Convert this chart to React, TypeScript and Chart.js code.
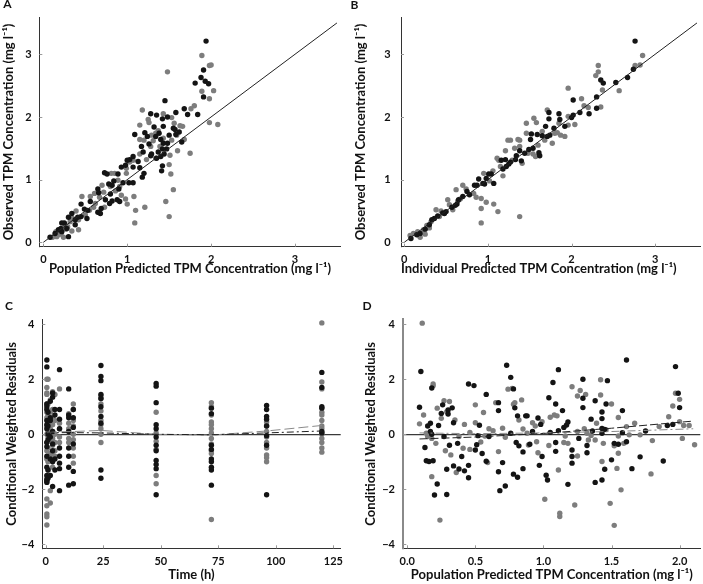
import React, { useEffect, useRef } from "react";
import { Chart, registerables } from "chart.js";
Chart.register(...registerables);

type Pt = [number, number];

const FONT = "Lato, 'DejaVu Sans', sans-serif";
const BLACK = "#141414";
const GRAY = "#7d7d7d";

// ---------- Panel A: observed vs population predicted ----------
const aBlack: Pt[] = [
  [1.94,3.21],[1.91,2.75],[1.88,2.63],[1.81,2.54],[1.93,2.57],[1.97,2.53],[1.91,2.32],[1.45,2.26],[1.68,2.13],[1.84,2.04],
  [1.72,2.04],[1.28,2.05],[1.58,2.07],[1.42,1.97],[1.35,2.03],[1.48,2.0],[1.32,1.84],[1.55,1.82],[1.57,1.8],[1.43,1.85],
  [1.38,1.74],[1.21,1.75],[1.09,1.72],[1.34,1.69],[1.24,1.69],[1.5,1.71],[1.62,1.76],[1.48,1.58],[1.43,1.58],[1.4,1.64],
  [1.26,1.57],[1.17,1.53],[1.42,1.49],[1.47,1.49],[1.37,1.44],[1.44,1.41],[1.29,1.41],[1.19,1.44],[1.07,1.37],[1.03,1.32],
  [1.0,1.31],[1.13,1.29],[1.28,1.38],[1.35,1.34],[1.4,1.37],[0.93,1.2],[0.98,1.23],[1.07,1.2],[1.15,1.19],[1.42,1.22],
  [1.41,1.14],[1.18,1.04],[1.2,1.1],[1.07,0.95],[1.02,0.95],[0.95,0.95],[0.89,1.09],[0.73,1.11],[0.76,1.09],[0.84,0.98],
  [0.82,0.91],[0.9,0.85],[0.78,0.93],[0.65,0.85],[0.66,0.79],[0.8,0.77],[0.74,0.68],[0.88,0.68],[0.91,0.65],[0.82,0.66],
  [0.79,0.62],[0.69,0.54],[0.65,0.48],[0.68,0.46],[0.56,0.65],[0.45,0.61],[0.53,0.51],[0.49,0.53],[0.45,0.41],[0.38,0.36],
  [0.34,0.46],[0.3,0.4],[0.38,0.28],[0.25,0.31],[0.22,0.31],[0.18,0.2],[0.28,0.22],[0.14,0.14],[0.08,0.08],[0.21,0.22],
  [0.22,0.17],[0.3,0.09],[0.52,0.38],[0.41,0.4],[1.58,1.72],[1.65,1.6]
];
const aGray: Pt[] = [
  [1.89,2.98],[1.48,2.72],[2.0,2.83],[1.98,2.82],[2.03,2.42],[1.89,2.41],[1.98,2.29],[1.98,1.91],[2.08,1.88],[1.8,2.18],
  [1.76,2.13],[1.18,2.11],[1.43,2.05],[1.53,1.99],[1.63,1.86],[1.66,1.85],[1.56,1.9],[1.59,1.71],[1.68,1.64],[1.75,1.42],
  [1.6,1.46],[1.53,1.63],[1.25,1.96],[1.15,1.87],[1.15,1.64],[1.2,1.63],[1.29,1.71],[1.34,1.74],[1.37,1.78],[1.31,1.62],
  [1.28,1.53],[1.51,1.39],[1.5,1.24],[1.52,1.09],[1.55,0.84],[1.46,0.65],[1.5,0.41],[1.21,0.56],[1.1,0.51],[1.09,0.31],
  [1.08,0.73],[1.0,0.61],[0.93,0.75],[0.98,0.69],[0.86,0.82],[0.8,0.89],[0.91,0.89],[0.85,1.1],[0.81,1.1],[0.7,0.91],
  [0.61,0.78],[0.67,0.72],[0.73,0.56],[0.6,0.56],[0.55,0.51],[0.46,0.73],[0.56,0.73],[0.5,0.44],[0.39,0.5],[0.35,0.38],
  [0.32,0.33],[0.42,0.36],[0.26,0.28],[0.27,0.21],[0.21,0.13],[0.16,0.09],[0.11,0.08],[0.24,0.08],[0.15,0.17],[0.34,0.18],
  [0.42,0.2],[0.99,1.1],[1.07,1.31],[1.15,1.41],[1.03,1.28],[1.23,1.32],[1.34,1.34],[1.39,1.53],[1.43,1.66],[0.99,1.18],
  [0.89,0.99],[1.26,1.91],[0.18,0.12],[0.29,0.25],[0.62,0.62],[0.72,0.8]
];

// ---------- Panel B: observed vs individual predicted ----------
const bBlack: Pt[] = [
  [2.76,3.21],[2.74,2.76],[2.67,2.63],[2.53,2.55],[2.38,2.54],[2.35,2.59],[2.3,2.32],[2.3,2.14],[2.21,2.05],[2.1,2.07],
  [2.02,2.03],[2.02,2.27],[2.0,1.99],[1.85,2.05],[1.73,2.07],[1.86,1.96],[1.92,1.85],[1.73,1.97],[1.79,1.82],[1.69,1.85],
  [1.59,1.72],[1.52,1.73],[1.74,1.71],[1.65,1.7],[1.51,1.64],[1.71,1.69],[1.54,1.5],[1.61,1.43],[1.62,1.38],[1.49,1.48],
  [1.38,1.46],[1.34,1.38],[1.33,1.32],[1.4,1.3],[1.21,1.32],[1.22,1.21],[1.16,1.31],[1.27,1.28],[1.18,1.17],[1.04,1.09],
  [1.07,0.94],[1.01,1.09],[0.98,1.02],[0.89,1.01],[0.94,0.94],[0.87,0.91],[0.96,0.93],[0.84,0.91],[0.78,0.76],[0.75,0.81],
  [0.7,0.73],[0.65,0.68],[0.57,0.56],[0.63,0.61],[0.5,0.49],[0.46,0.47],[0.4,0.42],[0.36,0.38],[0.33,0.36],[0.3,0.28],
  [0.25,0.21],[0.19,0.14],[0.15,0.12],[0.08,0.06],[0.48,0.46],[0.61,0.59],[1.25,1.25],[1.44,1.42]
];
const bGray: Pt[] = [
  [2.85,2.98],[2.82,2.83],[2.76,2.82],[2.32,2.82],[2.29,2.66],[2.32,2.72],[2.57,2.42],[2.37,2.43],[2.35,2.16],[2.12,2.29],
  [2.15,2.18],[1.96,2.46],[1.96,2.01],[2.04,1.88],[1.96,1.87],[1.71,2.11],[1.55,1.98],[1.58,1.91],[1.8,1.74],[1.83,1.75],
  [1.87,1.71],[1.92,1.69],[1.77,1.58],[1.68,1.63],[1.65,1.77],[1.46,1.9],[1.36,1.64],[1.38,1.63],[1.24,1.63],[1.46,1.74],
  [1.38,1.53],[1.48,1.42],[1.54,1.41],[1.57,1.37],[1.41,1.26],[1.32,1.5],[1.29,1.31],[1.13,1.31],[1.15,1.21],[1.18,1.06],
  [1.06,1.14],[0.95,1.1],[1.02,0.98],[0.92,0.7],[0.98,0.64],[1.07,0.61],[1.12,0.49],[0.92,0.54],[0.92,0.31],[1.38,0.41],
  [0.83,0.78],[0.86,0.72],[0.74,0.85],[0.7,0.91],[0.62,0.84],[0.67,0.69],[0.64,0.66],[0.52,0.68],[0.54,0.6],[0.58,0.52],
  [0.44,0.5],[0.38,0.52],[0.42,0.41],[0.32,0.33],[0.27,0.27],[0.3,0.23],[0.23,0.2],[0.16,0.17],[0.11,0.14],[0.07,0.11],
  [0.19,0.08],[0.25,0.13],[1.11,1.34],[1.21,1.46],[1.27,1.63],[1.6,1.55],[1.85,1.9],[2.2,2.15]
];

const identityLine = [0, 3.5];

// ---------- Panel C: CWRES vs time ----------
const cTimes = [0.5, 1, 2, 3, 4, 6, 10, 12, 24, 48, 72, 96, 120];
const cBlackByTime: number[][] = [
  [2.7,2.45,1.1,1.0,0.9,0.5,0.35,0.2,-0.3,-0.45,-0.8,-1.2,-1.5,-1.7,-1.75,-1.65],
  [0.8,0.3,0,-0.2,-1.3,-1.6],
  [0.6,-0.1,-0.9,-1.5,1.2,0.5],
  [1.35,1.5,-0.35,-0.6,-1.0,-1.9,0.1],
  [0.7,0.9,-0.9,-1.3],
  [2.35,0.9,0.55,0.2,-0.5,-0.8,-1.05,-1.25,-2.05],
  [1.65,0.7,0.6,0.1,-0.5,-0.8,-1.2,-1.85],
  [0.9,0.6,0.25,-0.35,-1.35,-1.8],
  [2.5,2.1,1.95,1.45,1.3,1.0,0.65,0.4,-1.3,-1.6],
  [1.85,1.75,1.15,0.35,0.2,-0.1,-0.4,-0.6,-0.95,-1.1,-1.25,-2.2],
  [0.95,0.75,-0.4,-0.55,-0.9,-1.0,-1.2,-1.3,-1.85],
  [1.05,0.9,0.65,0.55,0.3,-0.05,-0.4,-2.2],
  [2.25,1.7,1.0,0.95,0.1,0.05]
];
const cGrayByTime: number[][] = [
  [2.0,1.7,1.5,1.45,1.1,0.8,0.6,0.3,0.0,-0.3,-0.6,-0.9,-1.6,-2.35,-2.6,-2.9,-3.0,-3.3],
  [2.0,1.1,0.7,0.4,0.1,-0.1,-0.5,-1.0,-1.3],
  [1.25,0.8,0.5,0.2,-0.2,-0.7,-2.05,-2.5],
  [1.55,0.9,0.6,0.35,0.1,-0.15,-0.4,-0.75,-1.2],
  [1.45,0.5,0.0,-0.3,-0.6,-0.8],
  [1.65,0.4,0.2,-0.1,-0.3],
  [0.75,0.4,0.2,-0.15,-0.3],
  [1.1,0.9,0.5,0.3,0.0,-0.2,-0.5,-0.8,-1.05],
  [1.4,1.3,1.1,0.85,0.5,0.35,0.2,0.0,-0.3],
  [0.8,0.05,-0.25,-0.55,-1.5,-1.8],
  [1.15,1.0,0.7,0.45,0.35,0.2,0.05,-0.15,-0.35,-0.6,-0.7,-3.1],
  [0.45,0.3,0.1,-0.1,-0.3,-0.5,-0.75,-0.85,-1.0],
  [4.05,1.9,1.65,0.8,0.7,0.5,0.3,0.2,0.0,-0.15,-0.3,-0.5,-0.65]
];
const cBlackTrend: Pt[] = [[0.5,0.05],[6,0.06],[12,0.06],[24,0.05],[48,0.0],[72,-0.02],[96,0.05],[120,0.12]];
const cGrayTrend: Pt[] = [[0.5,0.06],[6,0.09],[12,0.1],[24,0.14],[48,0.0],[72,-0.03],[96,0.12],[120,0.32]];

// ---------- Panel D: CWRES vs population predicted ----------
const dBlack: Pt[] = [
  [0.09,0.98],[0.1,2.28],[0.18,1.68],[0.13,-0.48],[0.14,-0.96],[0.16,-0.99],[0.17,0.1],[0.18,0.0],[0.19,-0.96],[0.15,0.3],
  [0.17,0.4],[0.2,-2.21],[0.22,-1.81],[0.23,0.32],[0.25,0.76],[0.26,1.07],[0.27,-0.08],[0.29,-1.27],[0.29,-2.19],[0.3,0.88],
  [0.3,0.74],[0.31,-0.4],[0.34,-1.15],[0.34,0.42],[0.33,0.96],[0.37,-0.33],[0.38,-1.26],[0.4,-0.81],[0.42,-1.33],[0.45,1.83],
  [0.45,-1.13],[0.45,-1.58],[0.49,1.77],[0.51,-0.38],[0.52,-0.05],[0.53,0.33],[0.5,-0.57],[0.58,1.45],[0.58,-0.98],[0.55,-0.7],
  [0.6,-0.08],[0.67,0.86],[0.67,1.15],[0.67,-1.36],[0.68,-2.05],[0.7,-1.03],[0.72,-1.88],[0.73,2.51],[0.76,2.07],[0.76,0.04],
  [0.78,1.65],[0.79,0.96],[0.8,-0.3],[0.81,-1.56],[0.78,-1.45],[0.82,-0.42],[0.81,0.67],[0.87,0.67],[0.88,0.67],[0.85,-0.64],
  [0.85,-1.25],[0.9,-0.36],[0.92,0.1],[0.96,0.59],[0.98,0.36],[0.97,-1.13],[0.99,-0.81],[1.02,-1.49],[1.03,-1.66],[1.04,1.33],
  [1.05,0.07],[1.07,1.88],[1.09,-0.3],[1.09,1.1],[1.11,0.13],[1.11,2.35],[1.09,-0.62],[1.14,0.86],[1.15,0.25],[1.17,0.34],
  [1.18,0.45],[1.18,-1.82],[1.21,-0.81],[1.21,-1.05],[1.21,-0.57],[1.26,-0.15],[1.29,2.0],[1.29,0.97],[1.29,1.31],[1.32,-0.41],
  [1.32,-0.67],[1.35,0.55],[1.36,0.12],[1.38,1.22],[1.38,-1.75],[1.43,0.04],[1.43,0.21],[1.43,0.57],[1.43,0.81],[1.45,-1.27],
  [1.46,1.1],[1.47,1.95],[1.45,0.18],[1.43,-1.66],[1.5,-0.93],[1.52,-0.33],[1.55,-0.36],[1.58,0.86],[1.58,0.06],[1.61,2.7],
  [1.61,-0.27],[1.65,-1.25],[1.71,-0.82],[1.75,0.12],[1.88,-0.97],[1.91,0.32],[1.95,0.36],[1.97,2.46],[1.99,1.49],[2.0,0.97]
];
const dGray: Pt[] = [
  [0.11,4.04],[0.09,0.38],[0.19,1.83],[0.19,1.76],[0.14,0.04],[0.15,-0.08],[0.18,-0.15],[0.18,-1.54],[0.21,-0.33],[0.22,0.95],
  [0.24,-3.12],[0.25,0.58],[0.27,1.22],[0.29,0.82],[0.31,1.19],[0.32,-0.75],[0.35,0.52],[0.36,-1.39],[0.38,-0.08],[0.42,0.36],
  [0.41,-0.51],[0.46,0.07],[0.46,-0.55],[0.5,1.07],[0.5,0.42],[0.54,-0.28],[0.56,0.79],[0.57,-0.06],[0.59,-1.03],[0.63,0.13],
  [0.65,1.15],[0.67,-0.63],[0.7,0.22],[0.72,-0.11],[0.74,1.64],[0.77,1.67],[0.78,1.09],[0.79,1.15],[0.82,0.52],[0.84,1.25],
  [0.85,0.19],[0.88,0.04],[0.89,-0.39],[0.94,0.3],[0.95,-0.27],[0.96,-0.67],[0.99,0.46],[1.01,-2.36],[1.04,-0.41],[1.05,0.62],
  [1.08,0.7],[1.1,0.67],[1.11,-1.3],[1.12,-2.99],[1.12,-2.87],[1.15,-0.3],[1.16,-0.06],[1.18,-0.33],[1.21,1.73],[1.23,-2.57],
  [1.25,1.39],[1.25,0.1],[1.25,-0.79],[1.27,1.59],[1.31,1.45],[1.32,0.04],[1.33,-0.21],[1.35,-0.04],[1.38,-0.21],[1.39,0.4],
  [1.42,1.98],[1.42,1.43],[1.43,-0.99],[1.44,-0.33],[1.46,0.17],[1.49,-2.51],[1.5,1.1],[1.52,-0.42],[1.52,-3.31],[1.54,-1.24],
  [1.55,0.61],[1.55,-0.06],[1.55,-0.69],[1.57,-2.02],[1.59,-0.33],[1.61,0.28],[1.63,-0.02],[1.67,0.4],[1.71,-0.02],[1.79,-1.44],
  [1.8,-0.23],[1.85,0.28],[1.92,0.64],[1.95,1.03],[1.97,1.49],[2.0,1.27],[2.02,-0.15],[2.03,0.32],[2.07,0.32],[2.11,-0.38],
  [2.0,0.46],[0.12,0.7],[0.28,-0.6],[0.6,0.2],[0.92,0.42],[1.3,0.2]
];
const dBlackTrend: Pt[] = [[0.09,-0.17],[0.5,-0.1],[1.0,0.03],[1.5,0.22],[2.1,0.48]];
const dGrayTrend: Pt[] = [[0.09,0.05],[0.5,0.02],[1.0,0.05],[1.5,0.1],[2.1,0.2]];

// ---------- tick labels ----------
const concTicks = [0, 1, 2, 3];
const cwresTicks = [-4, -2, 0, 2, 4];
const timeTicks = [0, 25, 50, 75, 100, 125];
const predTicks = [0, 0.5, 1, 1.5, 2];

const toXY = (pts: Pt[]) => pts.map(([x, y]) => ({ x, y }));
const fromColumns = (times: number[], cols: number[][]) =>
  cols.flatMap((col, i) => col.map((y) => ({ x: times[i], y })));

const innerTicks = {
  id: "innerTicks",
  afterDatasetsDraw(chart: any) {
    const { ctx, chartArea, scales } = chart;
    ctx.save();
    ctx.strokeStyle = "#9a9a9a";
    ctx.lineWidth = 1;
    scales.x.ticks.forEach((t: any) => {
      const px = Math.round(scales.x.getPixelForValue(t.value)) + 0.5;
      ctx.beginPath();
      ctx.moveTo(px, chartArea.bottom);
      ctx.lineTo(px, chartArea.bottom - 3);
      ctx.stroke();
    });
    scales.y.ticks.forEach((t: any) => {
      const py = Math.round(scales.y.getPixelForValue(t.value)) + 0.5;
      ctx.beginPath();
      ctx.moveTo(chartArea.left, py);
      ctx.lineTo(chartArea.left + 3, py);
      ctx.stroke();
    });
    ctx.restore();
  },
};

const panelLetter = {
  id: "panelLetter",
  afterDraw(chart: any, _args: any, opts: any) {
    const { ctx } = chart;
    ctx.save();
    ctx.font = `bold 12px ${FONT}`;
    ctx.fillStyle = "#111";
    ctx.textAlign = "center";
    ctx.textBaseline = "middle";
    ctx.fillText(opts.text, opts.x, opts.y);
    ctx.restore();
  },
};

const fmtMinus = (v: number, digits = 0) => {
  const s = Math.abs(v).toFixed(digits);
  return v < 0 ? "\u2212" + s : s;
};

interface Spec {
  left: number; top: number; width: number; height: number;
  padTop: number; padRight: number;
  yWidth: number; xHeight: number;
  xMin: number; xMax: number; yMin: number; yMax: number;
  xTicks: number[]; yTicks: number[]; xDigits: number;
  xTitle: string; yTitle: string; xTitleAlign: "center" | "start";
  xTitlePadBottom: number; yTitlePadTop: number;
  xTickPad: number; yTickPad: number;
  yBorderColor: string; yBorderWidth: number;
  zeroLine: boolean;
  letter: { text: string; x: number; y: number };
  datasets: any[];
}

const pointSet = (data: any[], color: string) => ({
  data,
  backgroundColor: color,
  borderWidth: 0,
  pointRadius: 2.7,
  pointHoverRadius: 2.7,
  showLine: false,
});
const lineSet = (data: any[], color: string, dash: number[], width = 1) => ({
  data,
  borderColor: color,
  borderWidth: width,
  borderDash: dash,
  pointRadius: 0,
  showLine: true,
  fill: false,
  tension: 0,
});

function Panel({ spec }: { spec: Spec }) {
  const ref = useRef<HTMLCanvasElement>(null);
  useEffect(() => {
    if (!ref.current) return;
    const chart = new Chart(ref.current, {
      type: "scatter",
      data: { datasets: spec.datasets },
      plugins: [innerTicks, panelLetter],
      options: {
        animation: false,
        responsive: false,
        devicePixelRatio: 1,
        layout: { padding: { top: spec.padTop, right: spec.padRight, left: 0, bottom: 0 } },
        plugins: {
          legend: { display: false },
          tooltip: { enabled: false },
          panelLetter: spec.letter,
        } as any,
        scales: {
          x: {
            type: "linear",
            min: spec.xMin,
            max: spec.xMax,
            afterFit: (s: any) => { s.height = spec.xHeight; },
            afterBuildTicks: (s: any) => { s.ticks = spec.xTicks.map((v) => ({ value: v })); },
            grid: { display: false, drawTicks: false },
            border: { display: true, color: "#333", width: 1 },
            ticks: {
              padding: spec.xTickPad,
              color: "#111",
              maxRotation: 0,
              autoSkip: false,
              font: { family: FONT, size: 11, weight: "bold" },
              callback: (v: any) => fmtMinus(Number(v), spec.xDigits),
            },
            title: {
              display: true,
              text: spec.xTitle,
              align: spec.xTitleAlign,
              color: "#111",
              font: { family: FONT, size: 13, weight: "bold" },
              padding: { top: 0, bottom: spec.xTitlePadBottom },
            },
          },
          y: {
            type: "linear",
            min: spec.yMin,
            max: spec.yMax,
            afterFit: (s: any) => { s.width = spec.yWidth; },
            afterBuildTicks: (s: any) => { s.ticks = spec.yTicks.map((v) => ({ value: v })); },
            grid: {
              display: spec.zeroLine,
              drawTicks: false,
              color: (c: any) => (c.tick && c.tick.value === 0 ? "#3a3a3a" : "rgba(0,0,0,0)"),
              lineWidth: 1.2,
            },
            border: { display: true, color: spec.yBorderColor, width: spec.yBorderWidth },
            ticks: {
              padding: spec.yTickPad,
              color: "#111",
              autoSkip: false,
              font: { family: FONT, size: 11, weight: "bold" },
              callback: (v: any) => fmtMinus(Number(v), 0),
            },
            title: {
              display: true,
              text: spec.yTitle,
              color: "#111",
              font: { family: FONT, size: 13, weight: "bold" },
              padding: { top: spec.yTitlePadTop, bottom: 0 },
            },
          },
        },
      } as any,
    });
    return () => chart.destroy();
  }, [spec]);
  return (
    <canvas
      ref={ref}
      width={spec.width}
      height={spec.height}
      style={{ position: "absolute", left: spec.left, top: spec.top, width: spec.width, height: spec.height }}
    />
  );
}

const identityData = identityLine.map((v) => ({ x: v, y: v }));
const concTitle = "Observed TPM Concentration (mg l\u207B\u00B9)";
const cwresTitle = "Conditional Weighted Residuals";

const specs: Spec[] = [
  {
    left: 0, top: 0, width: 350, height: 284,
    padTop: 17.3, padRight: 9.3, yWidth: 39.3, xHeight: 37.3,
    xMin: -0.048, xMax: 3.545, yMin: -0.07, yMax: 3.59,
    xTicks: concTicks, yTicks: concTicks, xDigits: 0,
    xTitle: "Population Predicted TPM Concentration (mg l\u207B\u00B9)", yTitle: concTitle, xTitleAlign: "center",
    xTitlePadBottom: 7.7, yTitlePadTop: 0.7, xTickPad: 6, yTickPad: 7.6,
    yBorderColor: "#333", yBorderWidth: 1, zeroLine: false,
    letter: { text: "A", x: 7.5, y: 4.5 },
    datasets: [lineSet(identityData, "#222", []), pointSet(toXY(aBlack), BLACK), pointSet(toXY(aGray), GRAY)],
  },
  {
    left: 350, top: 0, width: 353, height: 284,
    padTop: 17.3, padRight: 0, yWidth: 51, xHeight: 37.3,
    xMin: -0.039, xMax: 3.54, yMin: -0.07, yMax: 3.59,
    xTicks: concTicks, yTicks: concTicks, xDigits: 0,
    xTitle: "Individual Predicted TPM Concentration (mg l\u207B\u00B9)", yTitle: concTitle, xTitleAlign: "start",
    xTitlePadBottom: 7.7, yTitlePadTop: 3.2, xTickPad: 6, yTickPad: 10.3,
    yBorderColor: "#333", yBorderWidth: 1, zeroLine: false,
    letter: { text: "B", x: 4.5, y: 5 },
    datasets: [lineSet(identityData, "#222", []), pointSet(toXY(bBlack), BLACK), pointSet(toXY(bGray), GRAY)],
  },
  {
    left: 0, top: 284, width: 350, height: 300,
    padTop: 35.3, padRight: 9.3, yWidth: 42.3, xHeight: 35.7,
    xMin: -1.48, xMax: 128.2, yMin: -4.145, yMax: 4.18,
    xTicks: timeTicks, yTicks: cwresTicks, xDigits: 0,
    xTitle: "Time (h)", yTitle: cwresTitle, xTitleAlign: "center",
    xTitlePadBottom: 1.2, yTitlePadTop: 4.2, xTickPad: 6.1, yTickPad: 8,
    yBorderColor: "#333", yBorderWidth: 1, zeroLine: true,
    letter: { text: "C", x: 9, y: 22 },
    datasets: [
      lineSet(toXY(cBlackTrend), "#222", [7, 3, 2, 3]),
      lineSet(toXY(cGrayTrend), "#8a8a8a", [10, 4]),
      pointSet(fromColumns(cTimes, cBlackByTime), BLACK),
      pointSet(fromColumns(cTimes, cGrayByTime), GRAY),
    ],
  },
  {
    left: 350, top: 284, width: 353, height: 300,
    padTop: 35.3, padRight: 0, yWidth: 53.3, xHeight: 35.7,
    xMin: -0.029, xMax: 2.152, yMin: -4.145, yMax: 4.18,
    xTicks: predTicks, yTicks: cwresTicks, xDigits: 1,
    xTitle: "Population Predicted TPM Concentration (mg l\u207B\u00B9)", yTitle: cwresTitle, xTitleAlign: "center",
    xTitlePadBottom: 1.2, yTitlePadTop: 13.2, xTickPad: 6.1, yTickPad: 8.3,
    yBorderColor: "#8a8a8a", yBorderWidth: 2, zeroLine: true,
    letter: { text: "D", x: 17, y: 22 },
    datasets: [
      lineSet(toXY(dBlackTrend), "#222", [8, 3]),
      lineSet(toXY(dGrayTrend), "#8a8a8a", [8, 3, 2, 3]),
      pointSet(toXY(dBlack), BLACK),
      pointSet(toXY(dGray), GRAY),
    ],
  },
];

export default function App() {
  return (
    <div style={{ position: "absolute", left: 0, top: 0, width: 703, height: 584, background: "#fff" }}>
      {specs.map((s, i) => (
        <Panel key={i} spec={s} />
      ))}
    </div>
  );
}
